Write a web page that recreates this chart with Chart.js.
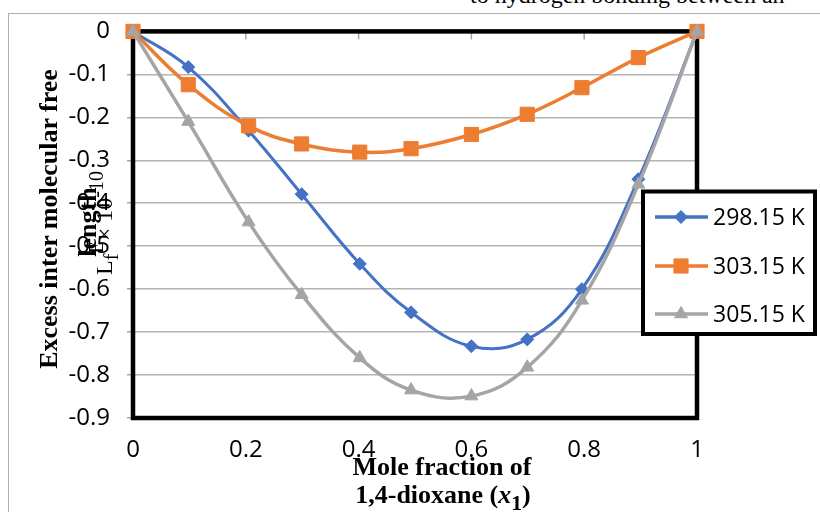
<!DOCTYPE html>
<html>
<head>
<meta charset="utf-8">
<script src="https://cdn.jsdelivr.net/npm/chart.js@4.4.0/dist/chart.umd.min.js"></script>
<style>
  html, body { margin: 0; padding: 0; background: #fff; }
  #wrap { position: relative; width: 820px; height: 512px; overflow: hidden; }
  #frame { position: absolute; left: 8px; top: 13px; width: 900px; height: 600px;
           border-left: 1.5px solid #b0b0b0; border-top: 1.5px solid #b0b0b0; }
  canvas { position: absolute; left: 0; top: 0; }
  .t { position: absolute; white-space: nowrap; color: #000;
       font-family: "Liberation Serif", "Times New Roman", serif; }
  .rot { transform: translate(-50%, -50%) rotate(-90deg); }
  .ctr { transform: translate(-50%, -50%); }
</style>
</head>
<body>
<div id="wrap">
  <div class="t" style="left:470px; top:-17px; font-size:24px; line-height:24px;">to hydrogen bonding between an</div>
  <div id="frame"></div>
  <canvas id="myChart" width="820" height="512"></canvas>
  <div class="t rot" style="left:49px; top:219px; font-size:26px; font-weight:bold;">Excess inter molecular free</div>
  <div class="t rot" style="left:88px; top:222px; font-size:26px; font-weight:bold;">length</div>
  <div class="t rot" style="left:104px; top:223px; font-size:24px;">L<sub>f</sub><sup>E</sup>× 10<sup>-10</sup></div>
  <div class="t ctr" style="left:442px; top:467px; font-size:26px; font-weight:bold;">Mole fraction of</div>
  <div class="t ctr" style="left:443px; top:498px; font-size:26px; font-weight:bold;">1,4-dioxane (<i>x</i><sub>1</sub>)</div>
</div>
<script>
// mole fraction of 1,4-dioxane
const xValues = [0, 0.098, 0.205, 0.299, 0.402, 0.493, 0.6, 0.699, 0.796, 0.896, 1];
const seriesLabels = ['298.15 K', '303.15 K', '305.15 K'];
const lf29815 = [0, -0.083, -0.231, -0.379, -0.541, -0.654, -0.733, -0.717, -0.600, -0.344, 0];
const lf30315 = [0, -0.124, -0.220, -0.262, -0.281, -0.273, -0.240, -0.193, -0.131, -0.061, 0];
const lf30515 = [0, -0.210, -0.444, -0.613, -0.760, -0.835, -0.849, -0.782, -0.626, -0.356, 0];
const xTicks = [0, 0.2, 0.4, 0.6, 0.8, 1];
const yTicks = [0, -0.1, -0.2, -0.3, -0.4, -0.5, -0.6, -0.7, -0.8, -0.9];

const toPoints = ys => ys.map((y, i) => ({ x: xValues[i], y: y }));

// plot border, inner x ticks and the boxed legend
const framePlugin = {
  id: 'frame',
  beforeDatasetsDraw(chart) {
    const { ctx, chartArea: a, scales } = chart;
    ctx.save();
    ctx.strokeStyle = '#a6a6a6';
    ctx.lineWidth = 1.5;
    xTicks.forEach(v => {
      const px = scales.x.getPixelForValue(v);
      ctx.beginPath();
      ctx.moveTo(px, a.top);
      ctx.lineTo(px, a.top + 8);
      ctx.stroke();
    });
    ctx.strokeStyle = '#000';
    ctx.lineWidth = 4.5;
    ctx.strokeRect(a.left, a.top, a.right - a.left, a.bottom - a.top);
    ctx.restore();
  },
  afterDraw(chart) {
    const ctx = chart.ctx;
    ctx.save();
    ctx.fillStyle = '#fff';
    ctx.fillRect(643, 191.5, 172, 142.5);
    ctx.strokeStyle = '#000';
    ctx.lineWidth = 4;
    ctx.strokeRect(643, 191.5, 172, 142.5);
    const rows = [217, 266, 314];
    chart.data.datasets.forEach((ds, i) => {
      const y = rows[i];
      ctx.strokeStyle = ds.borderColor;
      ctx.lineWidth = 3.5;
      ctx.beginPath();
      ctx.moveTo(655, y);
      ctx.lineTo(708, y);
      ctx.stroke();
      ctx.fillStyle = ds.pointBackgroundColor;
      ctx.strokeStyle = ds.pointBorderColor;
      ctx.lineWidth = 1;
      Chart.helpers.drawPoint(ctx, { pointStyle: ds.pointStyle, radius: ds.pointRadius, borderWidth: 1, rotation: 0 }, 681, y);
      ctx.fillStyle = '#000';
      ctx.font = '23px "Open Sans"';
      ctx.textBaseline = 'middle';
      ctx.textAlign = 'left';
      ctx.fillText(ds.label, 713, y + 1);
    });
    ctx.restore();
  }
};

const ctx = document.getElementById('myChart');
var lfChart = new Chart(ctx, {
  type: 'line',
  data: {
    datasets: [
      { label: seriesLabels[0], data: toPoints(lf29815), borderColor: '#4472C4', borderWidth: 3,
        pointStyle: 'rectRot', pointRadius: 6.5, pointBackgroundColor: '#4472C4', pointBorderColor: '#4472C4',
        pointBorderWidth: 1, tension: 0.4, clip: false, order: 3 },
      { label: seriesLabels[1], data: toPoints(lf30315), borderColor: '#ED7D31', borderWidth: 3.5,
        pointStyle: 'rect', pointRadius: 10, pointBackgroundColor: '#ED7D31', pointBorderColor: '#ED7D31',
        pointBorderWidth: 1, tension: 0.4, clip: false, order: 2 },
      { label: seriesLabels[2], data: toPoints(lf30515), borderColor: '#A5A5A5', borderWidth: 3.5,
        pointStyle: 'triangle', pointRadius: 7.5, pointBackgroundColor: '#A5A5A5', pointBorderColor: '#A5A5A5',
        pointBorderWidth: 1, tension: 0.4, clip: false, order: 1 }
    ]
  },
  options: {
    responsive: false,
    animation: false,
    devicePixelRatio: 1,
    layout: { padding: { top: 28, right: 123, left: 0, bottom: 0 } },
    plugins: { legend: { display: false }, tooltip: { enabled: false } },
    scales: {
      x: {
        type: 'linear', min: 0, max: 1,
        afterFit: s => { s.height = 94; },
        afterBuildTicks: s => { s.ticks = xTicks.map(v => ({ value: v })); },
        grid: { display: false, drawTicks: false },
        border: { display: false },
        ticks: { padding: 18, color: '#000', maxRotation: 0,
                 font: { family: 'Open Sans', size: 24 }, callback: v => String(v) }
      },
      y: {
        type: 'linear', min: -0.9, max: 0,
        afterFit: s => { s.width = 133; },
        afterBuildTicks: s => { s.ticks = yTicks.map(v => ({ value: v })); },
        grid: { color: '#b4b4b4', lineWidth: 1.5, tickLength: 6, tickColor: '#a6a6a6' },
        border: { display: false },
        ticks: { padding: 17, color: '#000',
                 font: { family: 'Open Sans', size: 24 }, callback: v => String(v) }
      }
    }
  },
  plugins: [framePlugin]
});
</script>
</body>
</html>
